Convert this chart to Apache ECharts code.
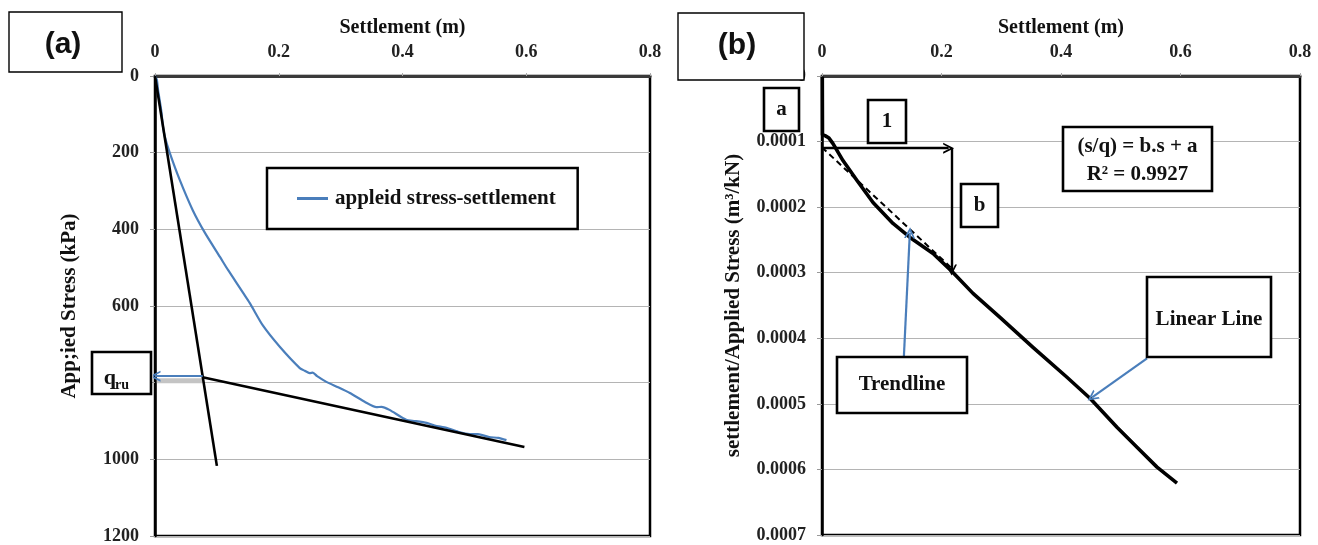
<!DOCTYPE html>
<html>
<head>
<meta charset="utf-8">
<script src="https://cdn.jsdelivr.net/npm/echarts@6/dist/echarts.min.js"></script>
<style>
  html, body { margin: 0; padding: 0; background: #fff; }
  #chart { width: 1318px; height: 545px; }
</style>
</head>
<body>
<div id="chart"></div>
<script>
// ---- Panel (a): applied stress vs settlement ----
const settlementTicks = [0, 0.2, 0.4, 0.6, 0.8];
const stressTicks = [0, 200, 400, 600, 800, 1000, 1200];

// settlement (m), applied stress (kPa)
const stressSettlement = [
  [0, 0], [0.003, 10], [0.005, 37], [0.010, 89], [0.013, 133], [0.016, 159],
  [0.024, 201], [0.040, 271], [0.061, 350], [0.081, 410], [0.105, 472],
  [0.118, 506], [0.153, 592], [0.174, 650], [0.202, 707], [0.234, 762],
  [0.242, 769], [0.250, 775], [0.255, 774], [0.262, 783], [0.277, 798],
  [0.296, 812], [0.315, 827], [0.340, 851], [0.358, 864], [0.366, 863],
  [0.379, 871], [0.406, 897], [0.420, 900], [0.439, 905], [0.452, 912],
  [0.471, 918], [0.490, 928], [0.508, 934], [0.522, 934], [0.540, 942],
  [0.555, 944], [0.568, 950]
];
const initialTangent = [[0, 0], [0.100, 1017]];
const finalTangent = [[0.077, 786], [0.597, 968]];
const qruStress = 783;
const qruShade = [[0.003, 795], [0.077, 795]];

// ---- Panel (b): settlement / applied stress vs settlement ----
const ratioTicks = [0, 0.0001, 0.0002, 0.0003, 0.0004, 0.0005, 0.0006, 0.0007];
// settlement (m), settlement/applied stress (m3/kN)
const normalisedCurve = [
  [0.0005, 0.000001], [0.0008, 0.0000894], [0.0050, 0.0000909],
  [0.0117, 0.0000947], [0.0184, 0.0001031], [0.0351, 0.000129],
  [0.0586, 0.0001594], [0.0854, 0.0001929], [0.1188, 0.0002249],
  [0.1473, 0.0002462], [0.1858, 0.0002706], [0.2192, 0.0002995],
  [0.2527, 0.0003315], [0.2979, 0.0003681], [0.3531, 0.0004138],
  [0.4100, 0.0004594], [0.4485, 0.0004914], [0.4937, 0.0005356],
  [0.5272, 0.0005661], [0.5607, 0.0005965], [0.5941, 0.0006209]
];
const trendline = [[0, 0.000109], [0.217, 0.000293]];
const runArrow = [[0, 0.000110], [0.212, 0.000110]];
const riseArrow = [[0.2167, 0.000111], [0.2167, 0.000296]];
const trendPointer = [[0.137, 0.000429], [0.147, 0.000239]];
const linearPointer = [[0.544, 0.0004305], [0.452, 0.000490]];

const SERIF = '"Liberation Serif", "Times New Roman", serif';
const SANS = '"Liberation Sans", Arial, sans-serif';
const BLUE = '#4a7ebb';
const CHEVRON = 'path://M0,10 L5,0 L10,10 L8.3,10 L5,3.6 L1.7,10 Z';

function xAxisCfg(gridIndex) {
  return {
    type: 'value', gridIndex, position: 'top',
    min: settlementTicks[0], max: settlementTicks[settlementTicks.length - 1],
    interval: settlementTicks[1] - settlementTicks[0],
    name: 'Settlement (m)', nameLocation: 'middle', nameGap: 34,
    nameTextStyle: { fontFamily: SERIF, fontWeight: 'bold', fontSize: 20, color: '#111' },
    axisLine: { show: true, lineStyle: { color: '#3a3a3a', width: 3 } },
    axisTick: { show: true, length: 3, lineStyle: { color: '#aaa' } },
    axisLabel: {
      fontFamily: SERIF, fontWeight: 'bold', fontSize: 18, color: '#222', margin: 15,
      formatter: v => (Math.abs(v) < 1e-9 ? '0' : v.toFixed(1))
    },
    splitLine: { show: false }
  };
}

function yAxisCfg(gridIndex, ticks, name, gap, fmt) {
  return {
    type: 'value', gridIndex, inverse: true,
    min: ticks[0], max: ticks[ticks.length - 1], interval: ticks[1] - ticks[0],
    name, nameLocation: 'middle', nameGap: gap, nameRotate: 90,
    nameTextStyle: { fontFamily: SERIF, fontWeight: 'bold', fontSize: 21, color: '#111' },
    axisLine: { show: true, lineStyle: { color: '#000', width: 2.5 } },
    axisTick: { show: true, length: 5, lineStyle: { color: '#999' } },
    axisLabel: {
      fontFamily: SERIF, fontWeight: 'bold', fontSize: 18, color: '#222', margin: 16,
      formatter: fmt
    },
    splitLine: { show: true, lineStyle: { color: '#b4b4b4', width: 1 } }
  };
}

function arrow(xi, yi, coords, color, width) {
  return {
    type: 'lines', coordinateSystem: 'cartesian2d', xAxisIndex: xi, yAxisIndex: yi,
    symbol: ['none', CHEVRON], symbolSize: [11, 11], silent: true, z: 5,
    lineStyle: { color, width, opacity: 1, curveness: 0 },
    data: [{ coords }]
  };
}

function box(x, y, w, h, lw) {
  return { type: 'rect', z: 100, shape: { x, y, width: w, height: h },
           style: { fill: '#fff', stroke: '#000', lineWidth: lw } };
}
function label(x, y, text, font) {
  return { type: 'text', z: 101, x, y,
           style: { text, font: font || ('bold 21px ' + SERIF), fill: '#111',
                    textAlign: 'center', textVerticalAlign: 'middle' } };
}

const chart = echarts.init(document.getElementById('chart'));
chart.setOption({
  animation: false,
  backgroundColor: '#fff',
  grid: [
    { left: 155, top: 76, width: 495, height: 460, show: true,
      borderColor: '#000', borderWidth: 2.5, containLabel: false },
    { left: 822, top: 76, width: 478, height: 459, show: true,
      borderColor: '#000', borderWidth: 2.5, containLabel: false }
  ],
  xAxis: [xAxisCfg(0), xAxisCfg(1)],
  yAxis: [
    yAxisCfg(0, stressTicks, 'App;ied Stress (kPa)', 75, v => String(v)),
    yAxisCfg(1, ratioTicks, 'settlement/Applied Stress (m\u00B3/kN)', 78,
             v => (Math.abs(v) < 1e-12 ? '0' : v.toFixed(4)))
  ],
  legend: {
    data: ['appleid stress-settlement'],
    left: 267, top: 168, orient: 'horizontal',
    padding: [20, 22, 20, 30],
    borderColor: '#000', borderWidth: 2.5, backgroundColor: '#fff',
    icon: 'rect', itemWidth: 31, itemHeight: 3, itemGap: 4,
    textStyle: { fontFamily: SERIF, fontWeight: 'bold', fontSize: 21, color: '#111', padding: [0, 0, 0, 2] },
    selectedMode: false
  },
  series: [
    {
      name: 'qru shade', type: 'line', xAxisIndex: 0, yAxisIndex: 0,
      data: qruShade, symbol: 'none', silent: true, z: 2,
      lineStyle: { color: '#c4c4c4', width: 5 }
    },
    {
      name: 'appleid stress-settlement', type: 'line', xAxisIndex: 0, yAxisIndex: 0,
      data: stressSettlement, symbol: 'none', z: 3, smooth: 0.2,
      lineStyle: { color: BLUE, width: 2.2 }, itemStyle: { color: BLUE }
    },
    {
      name: 'initial tangent', type: 'line', xAxisIndex: 0, yAxisIndex: 0,
      data: initialTangent, symbol: 'none', z: 4,
      lineStyle: { color: '#000', width: 2.6 }
    },
    {
      name: 'final tangent', type: 'line', xAxisIndex: 0, yAxisIndex: 0,
      data: finalTangent, symbol: 'none', z: 4,
      lineStyle: { color: '#000', width: 2.6 }
    },
    arrow(0, 0, [[finalTangent[0][0], qruStress], [0, qruStress]], BLUE, 2.2),

    {
      name: 'settlement/applied stress', type: 'line', xAxisIndex: 1, yAxisIndex: 1,
      data: normalisedCurve, symbol: 'none', z: 4,
      lineStyle: { color: '#000', width: 3.6, join: 'round' }
    },
    {
      name: 'trendline', type: 'line', xAxisIndex: 1, yAxisIndex: 1,
      data: trendline, symbol: 'none', z: 3,
      lineStyle: { color: '#000', width: 2, type: [6, 4] }
    },
    arrow(1, 1, runArrow, '#000', 2.4),
    arrow(1, 1, riseArrow, '#000', 2.4),
    arrow(1, 1, trendPointer, BLUE, 2.2),
    arrow(1, 1, linearPointer, BLUE, 2.2)
  ],
  graphic: [
    // panel tags
    box(9, 12, 113, 60, 1.4),
    label(63, 45, '(a)', 'bold 30px ' + SANS),
    box(678, 13, 126, 67, 1.4),
    label(737, 46, '(b)', 'bold 30px ' + SANS),

    // q_ru marker
    box(92, 352, 59, 42, 2.6),
    { type: 'text', z: 101, x: 116, y: 378,
      style: { text: 'q', font: 'bold 22px ' + SERIF, fill: '#111',
               textAlign: 'right', textVerticalAlign: 'middle' } },
    { type: 'text', z: 101, x: 115, y: 385,
      style: { text: 'ru', font: 'bold 14px ' + SERIF, fill: '#111',
               textAlign: 'left', textVerticalAlign: 'middle' } },

    // panel (b) annotations
    box(764, 88, 35, 43, 2.6),
    label(781.5, 110, 'a'),
    box(868, 100, 38, 43, 2.6),
    label(887, 122, '1'),
    box(961, 184, 37, 43, 2.6),
    label(979.5, 206, 'b'),
    box(1063, 127, 149, 64, 2.6),
    label(1137.5, 147, '(s/q) = b.s + a'),
    label(1137.5, 175, 'R\u00B2 = 0.9927'),
    box(1147, 277, 124, 80, 2.6),
    label(1209, 320, 'Linear Line'),
    box(837, 357, 130, 56, 2.6),
    label(902, 385, 'Trendline')
  ]
});
</script>
</body>
</html>
